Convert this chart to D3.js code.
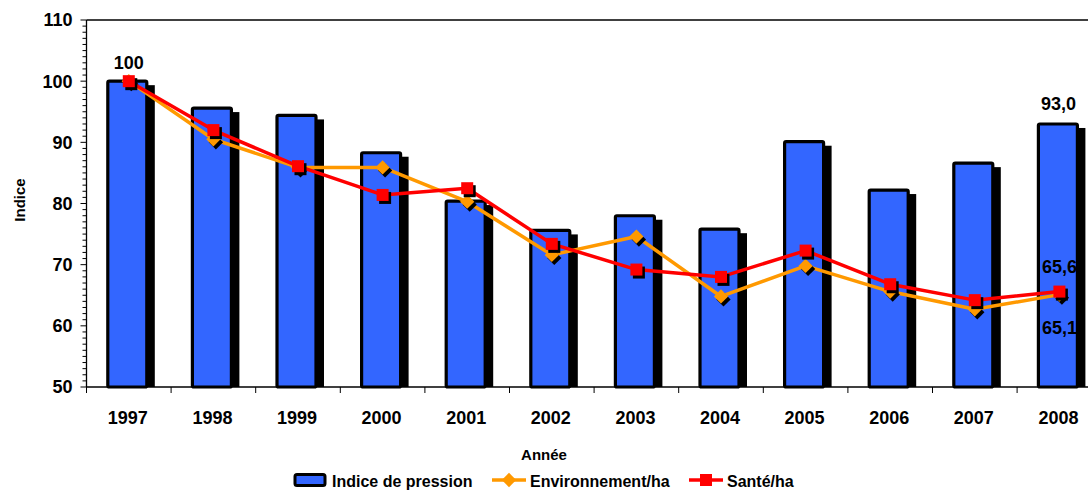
<!DOCTYPE html>
<html>
<head>
<meta charset="utf-8">
<script src="https://cdn.jsdelivr.net/npm/d3@7"></script>
<style>
  body { margin: 0; background: #fff; }
  svg text { font-family: "Liberation Sans", Arial, sans-serif; font-weight: bold; fill: #000; }
</style>
</head>
<body>
<svg id="graphique"></svg>
<script>
const annees = ['1997', '1998', '1999', '2000', '2001', '2002', '2003', '2004', '2005', '2006', '2007', '2008'];
const indicePression = [100, 95.6, 94.4, 88.3, 80.4, 75.6, 78.0, 75.8, 90.1, 82.2, 86.6, 93.0];
const environnementHa = [100, 90.5, 85.9, 85.9, 80.3, 71.6, 74.6, 64.8, 69.8, 65.6, 62.7, 65.1];
const santeHa = [100, 92.0, 86.1, 81.4, 82.5, 73.4, 69.2, 68.0, 72.3, 66.8, 64.2, 65.6];
const graduationsY = [50, 60, 70, 80, 90, 100, 110];

const largura = 1088, altura = 491;
const margem = { esquerda: 86.5, superior: 20, inferior: 104 };
const direita = 1101.7; // la zone de tracé dépasse l'image (coupée à droite)

const svg = d3.select('#graphique').attr('width', largura).attr('height', altura);

const x = d3.scaleBand().domain(annees).range([margem.esquerda, direita]);
const y = d3.scaleLinear().domain([50, 110]).range([altura - margem.inferior, margem.superior]);
const centre = a => x(a) + x.bandwidth() / 2;
const basY = y(50);

// cadre haut de la zone de tracé
svg.append('line')
    .attr('x1', margem.esquerda).attr('x2', direita)
    .attr('y1', y(110)).attr('y2', y(110))
    .attr('stroke', '#000').attr('stroke-width', 1.3);

// barres : ombre puis barre
const largeurBarre = 39;
const barres = svg.append('g');
annees.forEach((a, i) => {
  const cx = centre(a) - 1.5;
  barres.append('rect')
      .attr('x', cx - largeurBarre / 2 + 6)
      .attr('y', y(indicePression[i]) + 4)
      .attr('width', largeurBarre + 2)
      .attr('height', basY - y(indicePression[i]) - 4)
      .attr('fill', '#000');
  barres.append('rect')
      .attr('x', cx - largeurBarre / 2)
      .attr('y', y(indicePression[i]))
      .attr('width', largeurBarre)
      .attr('height', basY - y(indicePression[i]))
      .attr('rx', 1.5)
      .attr('fill', '#3366ff')
      .attr('stroke', '#000')
      .attr('stroke-width', 3.2);
});

// axe Y avec graduations mineures
const axeY = svg.append('g');
axeY.append('line')
    .attr('x1', margem.esquerda).attr('x2', margem.esquerda)
    .attr('y1', y(110)).attr('y2', basY)
    .attr('stroke', '#000').attr('stroke-width', 1.3);
d3.range(50, 111, 1).forEach(v => {
  const majeure = v % 10 === 0;
  axeY.append('line')
      .attr('x1', margem.esquerda - (majeure ? 6 : 4)).attr('x2', margem.esquerda)
      .attr('y1', y(v)).attr('y2', y(v))
      .attr('stroke', '#000').attr('stroke-width', 1);
});
axeY.selectAll('text.graduation').data(graduationsY).enter().append('text')
    .attr('x', margem.esquerda - 14)
    .attr('y', d => y(d))
    .attr('dy', '0.36em')
    .attr('text-anchor', 'end')
    .style('font-size', '18px')
    .text(d => d);

// axe X
svg.append('line')
    .attr('x1', margem.esquerda).attr('x2', direita)
    .attr('y1', basY).attr('y2', basY)
    .attr('stroke', '#000').attr('stroke-width', 1.3);
annees.forEach(a => {
  svg.append('line')
      .attr('x1', x(a)).attr('x2', x(a))
      .attr('y1', basY).attr('y2', basY + 6)
      .attr('stroke', '#000').attr('stroke-width', 1);
});
svg.selectAll('text.annee').data(annees).enter().append('text')
    .attr('x', d => centre(d) - 1)
    .attr('y', basY + 31)
    .attr('dy', '0.36em')
    .attr('text-anchor', 'middle')
    .style('font-size', '18px')
    .text(d => d);

// titres des axes
svg.append('text')
    .attr('transform', 'translate(25, 200) rotate(-90)')
    .attr('text-anchor', 'middle')
    .style('font-size', '15px')
    .text('Indice');
svg.append('text')
    .attr('x', 544).attr('y', 455).attr('dy', '0.36em')
    .attr('text-anchor', 'middle')
    .style('font-size', '15px')
    .text('Année');

// lignes
const ligne = d3.line().x(d => centre(d.a)).y(d => y(d.v));
const serie = vals => annees.map((a, i) => ({ a: a, v: vals[i] }));
const symboleLosange = d3.symbol().type(d3.symbolDiamond2).size(130);

function traceSerie(vals, couleur, marqueur) {
  const g = svg.append('g');
  g.append('path')
      .datum(serie(vals))
      .attr('d', ligne)
      .attr('fill', 'none')
      .attr('stroke', couleur)
      .attr('stroke-width', 3.5)
      .attr('stroke-linejoin', 'round');
  serie(vals).forEach(d => {
    const cx = centre(d.a), cy = y(d.v);
    if (marqueur === 'losange') {
      g.append('path').attr('d', symboleLosange()).attr('transform', `translate(${cx + 2.5},${cy + 3})`).attr('fill', '#000');
      g.append('path').attr('d', symboleLosange()).attr('transform', `translate(${cx},${cy})`).attr('fill', couleur);
    } else {
      g.append('rect').attr('x', cx - 6 + 2.5).attr('y', cy - 6 + 3).attr('width', 12).attr('height', 12).attr('fill', '#000');
      g.append('rect').attr('x', cx - 6).attr('y', cy - 6).attr('width', 12).attr('height', 12).attr('fill', couleur);
    }
  });
}
traceSerie(environnementHa, '#ff9900', 'losange');
traceSerie(santeHa, '#ff0000', 'carre');

// étiquettes de valeurs
const fmt = v => d3.format('.1f')(v).replace('.', ',');
const dernier = annees.length - 1;
svg.append('text')
    .attr('x', centre(annees[0])).attr('y', y(indicePression[0]) - 19).attr('dy', '0.36em')
    .attr('text-anchor', 'middle').style('font-size', '18px')
    .text(d3.format('d')(indicePression[0]));
svg.append('text')
    .attr('x', centre(annees[dernier]) - 1).attr('y', y(indicePression[dernier]) - 20).attr('dy', '0.36em')
    .attr('text-anchor', 'middle').style('font-size', '18px')
    .text(fmt(indicePression[dernier]));
svg.append('text')
    .attr('x', centre(annees[dernier])).attr('y', y(santeHa[dernier]) - 25).attr('dy', '0.36em')
    .attr('text-anchor', 'middle').style('font-size', '18px')
    .text(fmt(santeHa[dernier]));
svg.append('text')
    .attr('x', centre(annees[dernier])).attr('y', y(environnementHa[dernier]) + 33).attr('dy', '0.36em')
    .attr('text-anchor', 'middle').style('font-size', '18px')
    .text(fmt(environnementHa[dernier]));

// légende
const legende = svg.append('g');
const yLeg = 480;
legende.append('rect')
    .attr('x', 295).attr('y', yLeg - 5.5).attr('width', 30).attr('height', 11)
    .attr('rx', 2).attr('fill', '#3366ff').attr('stroke', '#000').attr('stroke-width', 3);
legende.append('text').attr('x', 332).attr('y', yLeg + 1).attr('dy', '0.36em').style('font-size', '16px').text('Indice de pression');
legende.append('line').attr('x1', 492).attr('x2', 526).attr('y1', yLeg).attr('y2', yLeg)
    .attr('stroke', '#ff9900').attr('stroke-width', 3.5);
legende.append('path').attr('d', symboleLosange()).attr('transform', `translate(509,${yLeg})`).attr('fill', '#ff9900');
legende.append('text').attr('x', 530).attr('y', yLeg + 1).attr('dy', '0.36em').style('font-size', '16px').text('Environnement/ha');
legende.append('line').attr('x1', 689).attr('x2', 723).attr('y1', yLeg).attr('y2', yLeg)
    .attr('stroke', '#ff0000').attr('stroke-width', 3.5);
legende.append('rect').attr('x', 700).attr('y', yLeg - 6).attr('width', 12).attr('height', 12).attr('fill', '#ff0000');
legende.append('text').attr('x', 727).attr('y', yLeg + 1).attr('dy', '0.36em').style('font-size', '16px').text('Santé/ha');
</script>
</body>
</html>
